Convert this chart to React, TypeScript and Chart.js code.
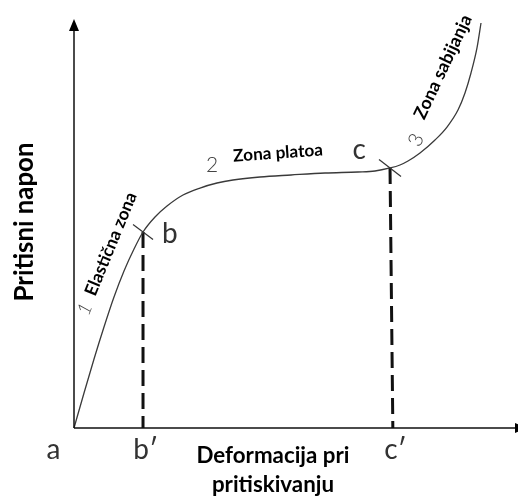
import React, { useEffect, useRef } from 'react';
import { Chart, registerables } from 'chart.js';

Chart.register(...registerables);

// Stress–strain curve (relative units, 0..100 on both axes)
const strainX = [0, 2.27, 4.54, 6.8, 9.07, 11.34, 13.61, 15.65, 18.37, 21.09, 24.72, 28.57, 32.43, 36.05, 42.18, 49.21, 56.92, 64.4, 68.25, 71.66, 73.92, 75.74, 78.46, 81.86, 84.58, 87.07, 88.66, 90.02, 91.38, 92.29];
const stressY = [0, 8.58, 16.91, 24.75, 32.11, 38.48, 43.87, 48.04, 51.72, 54.41, 57.11, 58.82, 60.05, 60.78, 61.52, 62.01, 62.5, 62.75, 62.99, 63.73, 64.46, 65.44, 67.4, 70.59, 73.77, 77.94, 82.11, 87.01, 93.14, 99.26];

// Zone boundary points b and c, and where their drop lines meet the x axis
const markerNames = ['b', 'c'];
const markerX = [15.65, 71.66];
const markerY = [48.04, 63.73];
const footX = [15.65, 72.3];
const footNames = ['a', 'b′', 'c′'];
const footValues = [0, 15.65, 72.3];

const zoneNumbers = ['1', '2', '3'];
const zoneNames = ['Elastična zona', 'Zona platoa', 'Zona sabijanja'];

const yTitle = 'Pritisni napon';
const xTitleLines = ['Deformacija pri', 'pritiskivanju'];

const FONT = 'Lato, "Open Sans", "DejaVu Sans", sans-serif';

// Text placement (data coordinates), styles
const zoneNameLayout = [
  { x: 8.39, y: 45.1, rot: -67.6, width: 110 },
  { x: 46.26, y: 67.4, rot: -4, width: 90 },
  { x: 83.67, y: 88.48, rot: -64.8, width: 113 },
];
const zoneNumberLayout = [
  { x: 2.49, y: 29.17, rot: -68, size: 19 },
  { x: 31.29, y: 64.5, rot: 0, size: 21 },
  { x: 77.55, y: 70.59, rot: -65, size: 20 },
];
const markerLabelOffset = [
  { dx: 6.1, dy: -2.6 },
  { dx: -7.0, dy: 2.2 },
];

function fitFont(ctx: CanvasRenderingContext2D, text: string, weight: string, width: number) {
  ctx.font = `${weight} 20px ${FONT}`;
  const w = ctx.measureText(text).width;
  return (20 * width) / w;
}

const annotatePlugin = {
  id: 'annotate',
  afterDatasetsDraw(chart: any) {
    const ctx: CanvasRenderingContext2D = chart.ctx;
    const xs = chart.scales.x;
    const ys = chart.scales.y;
    const px = (v: number) => xs.getPixelForValue(v);
    const py = (v: number) => ys.getPixelForValue(v);

    ctx.save();
    // axes
    const x0 = px(0), y0 = py(0), xEnd = px(100), yTop = py(100);
    ctx.strokeStyle = '#111';
    ctx.lineWidth = 1.5;
    ctx.beginPath();
    ctx.moveTo(x0, y0);
    ctx.lineTo(x0, yTop + 10);
    ctx.moveTo(x0, y0);
    ctx.lineTo(xEnd, y0);
    ctx.stroke();
    ctx.fillStyle = '#000';
    ctx.beginPath();
    ctx.moveTo(x0, yTop - 1);
    ctx.lineTo(x0 - 5, yTop + 11);
    ctx.lineTo(x0 + 5, yTop + 11);
    ctx.closePath();
    ctx.fill();
    ctx.beginPath();
    ctx.moveTo(xEnd + 12, y0);
    ctx.lineTo(xEnd, y0 - 5);
    ctx.lineTo(xEnd, y0 + 5);
    ctx.closePath();
    ctx.fill();

    // small crosses at b and c
    ctx.strokeStyle = '#333';
    ctx.lineWidth = 1.2;
    const crossDir = [
      { dx: 10, dy: 7.5 },
      { dx: 11, dy: 8.5 },
    ];
    markerX.forEach((mx, i) => {
      const cx = px(mx), cy = py(markerY[i]);
      ctx.beginPath();
      ctx.moveTo(cx - crossDir[i].dx, cy - crossDir[i].dy);
      ctx.lineTo(cx + crossDir[i].dx, cy + crossDir[i].dy);
      ctx.stroke();
    });

    const drawText = (text: string, x: number, y: number, font: string, rot: number, color: string, baseline: CanvasTextBaseline) => {
      ctx.save();
      ctx.translate(x, y);
      ctx.rotate((rot * Math.PI) / 180);
      ctx.font = font;
      ctx.fillStyle = color;
      ctx.textAlign = 'center';
      ctx.textBaseline = baseline;
      ctx.fillText(text, 0, 0);
      ctx.restore();
    };

    // y title
    const ySize = fitFont(ctx, yTitle, 'bold', 159);
    drawText(yTitle, px(-11.11), py(50.49), `bold ${ySize}px ${FONT}`, -90, '#000', 'middle');

    // x title
    const xSize = fitFont(ctx, xTitleLines[0], 'bold', 153);
    drawText(xTitleLines[0], px(45.12), py(-8.58), `bold ${xSize}px ${FONT}`, 0, '#000', 'alphabetic');
    drawText(xTitleLines[1], px(45.12), py(-15.69), `bold ${xSize}px ${FONT}`, 0, '#000', 'alphabetic');

    // foot labels a, b', c'
    footNames.forEach((t, i) => {
      const dx = i === 0 ? -4.65 : 0.6;
      drawText(t, px(footValues[i] + dx), py(-7.6), `400 28px ${FONT}`, 0, '#333', 'alphabetic');
    });

    // marker labels b, c
    markerNames.forEach((t, i) => {
      drawText(t, px(markerX[i] + markerLabelOffset[i].dx), py(markerY[i] + markerLabelOffset[i].dy), `400 28px ${FONT}`, 0, '#333', 'alphabetic');
    });

    // zone names
    zoneNames.forEach((t, i) => {
      const l = zoneNameLayout[i];
      const s = fitFont(ctx, t, 'bold', l.width);
      drawText(t, px(l.x), py(l.y), `bold ${s}px ${FONT}`, l.rot, '#000', 'middle');
    });

    // zone numbers
    zoneNumbers.forEach((t, i) => {
      const l = zoneNumberLayout[i];
      drawText(t, px(l.x), py(l.y), `${i === 0 ? 'italic ' : ''}300 ${l.size}px ${FONT}`, l.rot, '#444', 'middle');
    });

    ctx.restore();
  },
};

export default function App() {
  const ref = useRef<HTMLCanvasElement | null>(null);

  useEffect(() => {
    if (!ref.current) return;
    const curve = strainX.map((x, i) => ({ x, y: stressY[i] }));
    const drops = markerX.map((mx, i) => ({
      type: 'line' as const,
      data: [
        { x: mx, y: markerY[i] },
        { x: footX[i], y: 0 },
      ],
      borderColor: '#111',
      borderWidth: 3,
      borderDash: [16, 7],
      pointRadius: 0,
      showLine: true,
      clip: false as any,
    }));
    const chart = new Chart(ref.current, {
      type: 'scatter',
      data: {
        datasets: [
          {
            data: curve,
            showLine: true,
            borderColor: '#3a3a3a',
            borderWidth: 1.3,
            pointRadius: 0,
            cubicInterpolationMode: 'monotone',
            clip: false as any,
          } as any,
          ...drops,
        ],
      },
      options: {
        animation: false,
        responsive: false,
        maintainAspectRatio: false,
        layout: { padding: { left: 74, right: 3, top: 20, bottom: 68 } },
        plugins: { legend: { display: false }, tooltip: { enabled: false } },
        scales: {
          x: { type: 'linear', min: 0, max: 100, display: false },
          y: { type: 'linear', min: 0, max: 100, display: false },
        },
      },
      plugins: [annotatePlugin],
    });
    return () => chart.destroy();
  }, []);

  return (
    <div style={{ position: 'absolute', left: 0, top: 0, width: 518, height: 496, background: '#fff' }}>
      <canvas ref={ref} width={518} height={496} style={{ width: 518, height: 496, display: 'block' }} />
    </div>
  );
}
